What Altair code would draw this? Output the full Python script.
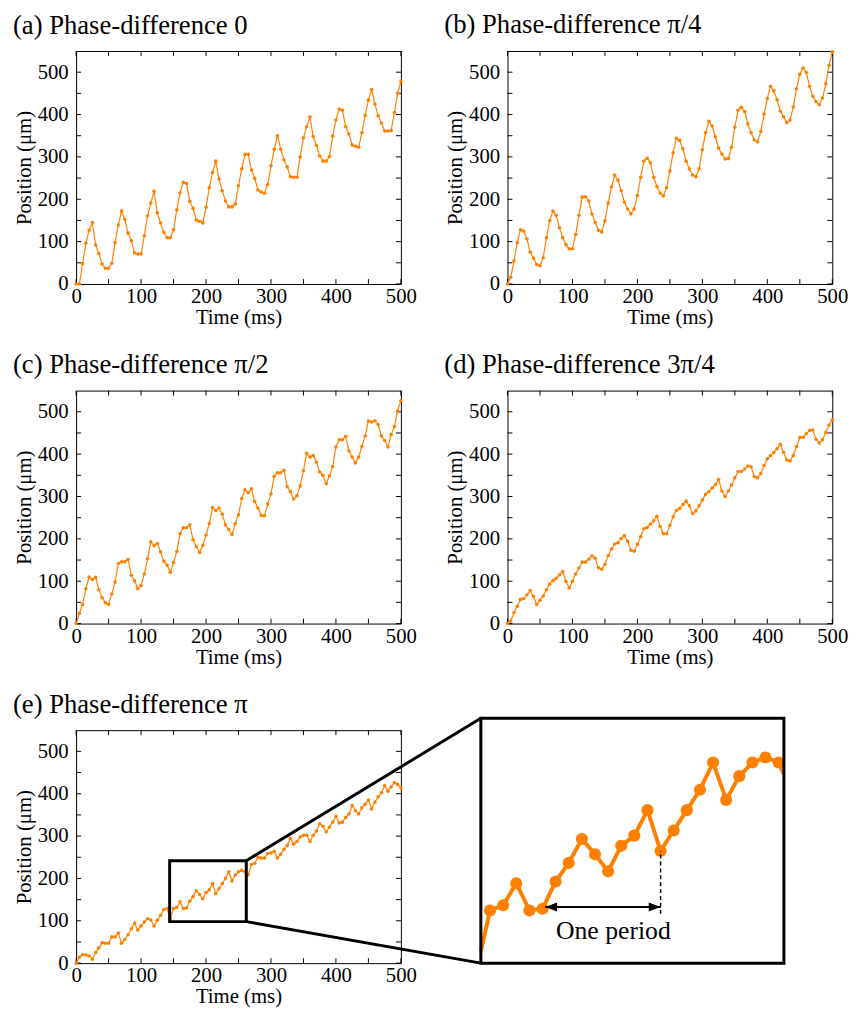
import altair as alt
import pandas as pd

# ---------------- data ----------------
TIME = list(range(0, 501, 5))

POS_A = [0, 0, 48, 96, 127, 145, 92, 72, 47, 37,
         37, 49, 98, 139, 172, 152, 120, 102, 73, 71,
         71, 114, 161, 191, 219, 168, 144, 122, 109, 109,
         128, 175, 215, 240, 237, 195, 179, 151, 148, 144,
         181, 227, 263, 290, 248, 220, 196, 182, 182, 189,
         232, 272, 306, 306, 269, 249, 222, 217, 214, 235,
         279, 318, 350, 318, 293, 276, 253, 252, 252, 300,
         345, 371, 394, 348, 327, 302, 290, 290, 301, 349,
         387, 413, 410, 371, 354, 328, 325, 323, 357, 398,
         434, 459, 425, 397, 380, 361, 361, 362, 405, 450,
         478]

POS_B = [0, 16, 54, 98, 128, 125, 106, 75, 61, 46,
         43, 62, 109, 150, 172, 162, 133, 109, 93, 83,
         83, 117, 162, 205, 206, 196, 165, 145, 127, 123,
         149, 191, 229, 257, 245, 220, 193, 177, 166, 177,
         209, 252, 290, 297, 286, 252, 230, 215, 208, 227,
         267, 310, 344, 339, 319, 290, 272, 257, 253, 272,
         317, 357, 384, 373, 347, 321, 307, 295, 296, 323,
         370, 410, 417, 407, 378, 357, 340, 336, 360, 401,
         438, 467, 456, 435, 408, 395, 381, 387, 418, 461,
         495, 510, 499, 467, 443, 431, 423, 439, 473, 516,
         548]

POS_C = [0, 24, 45, 82, 110, 104, 109, 80, 61, 49,
         45, 70, 98, 142, 146, 146, 152, 114, 101, 82,
         90, 117, 153, 193, 184, 189, 169, 147, 138, 121,
         144, 170, 212, 226, 226, 233, 198, 182, 168, 185,
         209, 236, 274, 267, 273, 258, 233, 222, 210, 236,
         257, 295, 316, 309, 318, 288, 273, 255, 255, 282,
         306, 348, 356, 356, 362, 323, 312, 294, 302, 325,
         361, 402, 393, 397, 381, 358, 350, 330, 349, 371,
         417, 434, 434, 442, 408, 393, 379, 393, 418, 443,
         478, 476, 479, 470, 443, 432, 417, 446, 465, 502,
         526]

POS_D = [0, 6, 26, 41, 57, 59, 68, 78, 64, 45,
         55, 65, 80, 93, 101, 107, 115, 123, 100, 84,
         100, 117, 131, 145, 145, 152, 160, 154, 132, 128,
         140, 160, 176, 188, 191, 201, 208, 194, 173, 171,
         187, 205, 224, 227, 235, 243, 253, 229, 212, 212,
         232, 252, 267, 272, 281, 289, 278, 260, 266, 278,
         292, 305, 311, 320, 328, 340, 313, 300, 313, 327,
         344, 359, 359, 365, 372, 370, 347, 344, 354, 373,
         389, 397, 404, 413, 423, 404, 386, 384, 397, 418,
         439, 440, 448, 456, 457, 435, 426, 434, 451, 469,
         481]

POS_E = [0, 14, 20, 20, 17, 9, 25, 36, 48, 47,
         47, 62, 62, 71, 47, 56, 67, 81, 95, 78,
         88, 97, 105, 102, 88, 101, 113, 126, 129, 105,
         129, 132, 145, 129, 130, 146, 157, 171, 162, 152,
         167, 173, 188, 164, 176, 188, 200, 216, 194, 208,
         216, 219, 216, 209, 233, 236, 250, 248, 248, 259,
         260, 264, 248, 257, 269, 278, 295, 281, 287, 298,
         302, 302, 287, 302, 312, 329, 323, 310, 321, 333,
         347, 331, 333, 344, 352, 372, 360, 352, 367, 375,
         385, 364, 380, 393, 403, 419, 406, 416, 426, 422,
         414]

TITLES = ["(a) Phase-difference 0", "(b) Phase-difference π/4",
          "(c) Phase-difference π/2", "(d) Phase-difference 3π/4",
          "(e) Phase-difference π"]

X_LABELS = [0, 100, 200, 300, 400, 500]
Y_LABELS = [0, 100, 200, 300, 400, 500]
X_TICKS = list(range(0, 501, 50))
Y_TICKS = list(range(0, 501, 50))

ZOOM_BOX_T = [144, 262]
ZOOM_BOX_V = [98, 242]
INSET_T = [146.5, 262]
PERIOD_T = [171, 215]
PERIOD_V = 131
PERIOD_DASH_V = [127, 164]
PERIOD_LABEL = "One period"

# ---------------- style ----------------
ORANGE = "#ff8000"
FONT = "Liberation Serif"
W, H = 329, 236
GAP = 108
X_MAX, Y_MAX = 500, 550
TL = 5  # inward tick length
INSET_X = [-27, 280]   # inset frame, in pixels of its grid cell
INSET_Y = [H, -12]


def panel(values, title, zoom_box=False):
    df = pd.DataFrame({"t": TIME, "v": values})
    xs = alt.Scale(domain=[0, X_MAX], nice=False)
    ys = alt.Scale(domain=[0, Y_MAX], nice=False)
    x = alt.X("t:Q", scale=xs, axis=alt.Axis(
        values=X_LABELS, ticks=False, domain=False, grid=False,
        title="Time (ms)", labelPadding=2, titlePadding=0,
        labelFlush=False))
    y = alt.Y("v:Q", scale=ys, axis=alt.Axis(
        values=Y_LABELS, ticks=False, domain=False, grid=False,
        title="Position (μm)", labelPadding=8, titlePadding=3))
    base = alt.Chart(df)
    line = base.mark_line(color=ORANGE, strokeWidth=1.2).encode(x=x, y=y)
    pts = base.mark_circle(color=ORANGE, size=13, opacity=1).encode(x="t:Q", y="v:Q")

    xt = alt.Chart(pd.DataFrame({"t": X_TICKS}))
    yt = alt.Chart(pd.DataFrame({"v": Y_TICKS}))
    tb = xt.mark_rule(color="black", strokeWidth=1).encode(
        x="t:Q", y=alt.value(H), y2=alt.value(H - TL))
    tt = xt.mark_rule(color="black", strokeWidth=1).encode(
        x="t:Q", y=alt.value(0), y2=alt.value(TL))
    tlft = yt.mark_rule(color="black", strokeWidth=1).encode(
        y="v:Q", x=alt.value(0), x2=alt.value(TL))
    trt = yt.mark_rule(color="black", strokeWidth=1).encode(
        y="v:Q", x=alt.value(W), x2=alt.value(W - TL))

    layers = [tb, tt, tlft, trt, line, pts]
    if zoom_box:
        box_df = pd.DataFrame({"t": [ZOOM_BOX_T[0]], "t2": [ZOOM_BOX_T[1]],
                               "v": [ZOOM_BOX_V[0]], "v2": [ZOOM_BOX_V[1]]})
        box = alt.Chart(box_df).mark_rect(filled=False, stroke="black", strokeWidth=3).encode(
            x="t:Q", x2="t2:Q", y="v:Q", y2="v2:Q")
        layers += [box]
    return alt.layer(*layers).properties(
        width=W, height=H,
        title=alt.TitleParams(title, anchor="start", frame="group", dx=-64,
                              offset=11, fontSize=27, font=FONT,
                              fontWeight="normal", color="black"))


def inset(values):
    df = pd.DataFrame({"t": TIME, "v": values})
    dline = df[(df.t >= 145) & (df.t <= 265)]
    dpts = df[(df.t >= 150) & (df.t <= 260)]
    xs = alt.Scale(domain=INSET_T, range=INSET_X, nice=False, clamp=True)
    ys = alt.Scale(domain=ZOOM_BOX_V, range=INSET_Y, nice=False)
    line = alt.Chart(dline).mark_line(color=ORANGE, strokeWidth=4).encode(
        x=alt.X("t:Q", scale=xs, axis=None), y=alt.Y("v:Q", scale=ys, axis=None))
    pts = alt.Chart(dpts).mark_circle(color=ORANGE, size=150, opacity=1).encode(
        x="t:Q", y="v:Q")
    frame = alt.Chart(pd.DataFrame({"k": [0]})).mark_rect(
        filled=False, stroke="black", strokeWidth=3).encode(
        x=alt.value(INSET_X[0]), x2=alt.value(INSET_X[1]),
        y=alt.value(INSET_Y[1]), y2=alt.value(INSET_Y[0]))
    # connector lines from the zoom box corners in panel (e) to the inset frame
    box_px = ZOOM_BOX_T[1] / X_MAX * W - (W + GAP)
    box_top = H - ZOOM_BOX_V[1] / Y_MAX * H
    box_bot = H - ZOOM_BOX_V[0] / Y_MAX * H
    conn = alt.Chart(pd.DataFrame({"k": [0]}))
    c1 = conn.mark_rule(color="black", strokeWidth=3).encode(
        x=alt.value(box_px), y=alt.value(box_top),
        x2=alt.value(INSET_X[0]), y2=alt.value(INSET_Y[1]))
    c2 = conn.mark_rule(color="black", strokeWidth=3).encode(
        x=alt.value(box_px), y=alt.value(box_bot),
        x2=alt.value(INSET_X[0]), y2=alt.value(INSET_Y[0]))
    arr = alt.Chart(pd.DataFrame({"t": [PERIOD_T[0]], "t2": [PERIOD_T[1]], "v": [PERIOD_V]})).mark_rule(
        color="black", strokeWidth=2).encode(x="t:Q", x2="t2:Q", y="v:Q")
    head_l = alt.Chart(pd.DataFrame({"t": [PERIOD_T[0]], "v": [PERIOD_V]})).mark_point(
        shape="M0,0L1,-0.375L1,0.375Z", filled=True, color="black", size=576, opacity=1).encode(
        x="t:Q", y="v:Q")
    head_r = alt.Chart(pd.DataFrame({"t": [PERIOD_T[1]], "v": [PERIOD_V]})).mark_point(
        shape="M0,0L-1,-0.375L-1,0.375Z", filled=True, color="black", size=576, opacity=1).encode(
        x="t:Q", y="v:Q")
    dash = alt.Chart(pd.DataFrame({"t": [PERIOD_T[1]], "v": [PERIOD_DASH_V[0]], "v2": [PERIOD_DASH_V[1]]})).mark_rule(
        color="black", strokeWidth=1.5, strokeDash=[4, 3]).encode(x="t:Q", y="v:Q", y2="v2:Q")
    label = alt.Chart(pd.DataFrame({"t": [(PERIOD_T[0] + PERIOD_T[1]) / 2 + 4], "v": [117], "s": [PERIOD_LABEL]})).mark_text(
        font=FONT, fontSize=26, color="black", align="center", baseline="middle").encode(
        x="t:Q", y="v:Q", text="s:N")
    return alt.layer(line, pts, dash, arr, head_l, head_r, label, frame, c1, c2).properties(
        width=W, height=H, view=alt.ViewBackground(stroke=None))


pa = panel(POS_A, TITLES[0])
pb = panel(POS_B, TITLES[1])
pc = panel(POS_C, TITLES[2])
pd_ = panel(POS_D, TITLES[3])
pe = panel(POS_E, TITLES[4], zoom_box=True)
pin = inset(POS_E)

chart = alt.concat(pa, pb, pc, pd_, pe, pin, columns=2,
                   spacing={"row": GAP, "column": GAP}, bounds="flush").properties(
    padding={"left": 4, "top": -5, "right": 5, "bottom": 5}
).configure(font=FONT).configure_view(stroke="black", strokeWidth=1).configure_axis(
    labelFont=FONT, titleFont=FONT, labelFontSize=21, titleFontSize=21,
    titleFontWeight="normal", labelColor="black", titleColor="black"
)

chart.save("out.html", embed_options={"renderer": "svg", "actions": False})
